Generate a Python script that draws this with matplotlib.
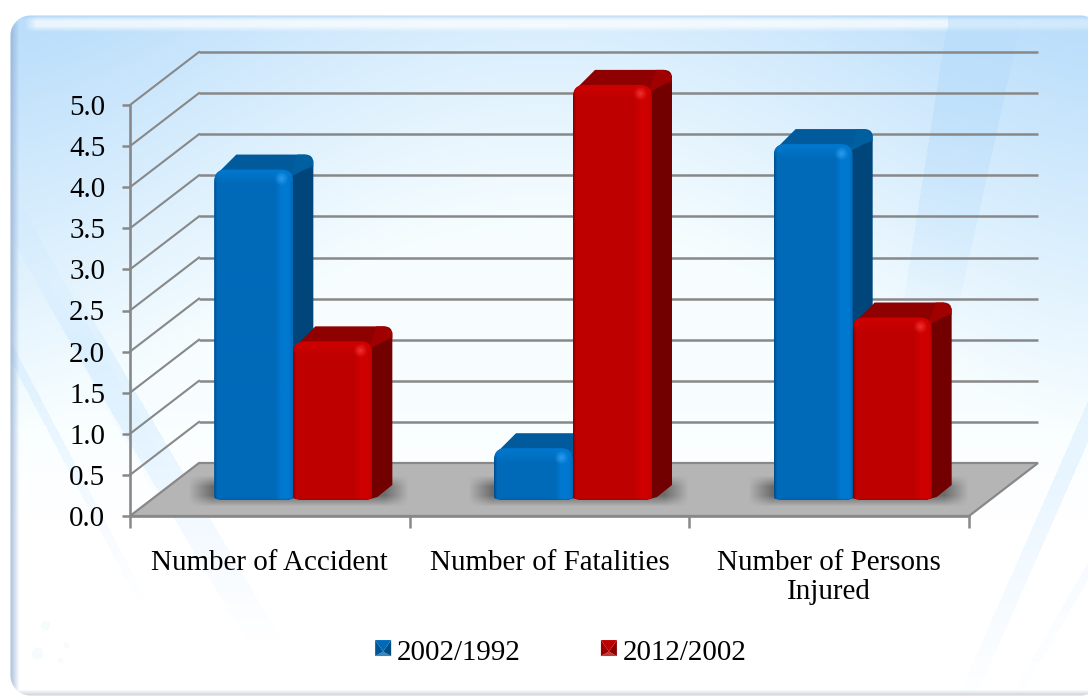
import numpy as np
import matplotlib
matplotlib.use("Agg")
import matplotlib.pyplot as plt
from matplotlib.legend_handler import HandlerBase
from matplotlib.patches import Patch, PathPatch, Polygon
from matplotlib.path import Path
from matplotlib.transforms import Affine2D, IdentityTransform

categories = ["Number of Accident", "Number of Fatalities", "Number of Persons\nInjured"]
series_names = ["2002/1992", "2012/2002"]
values_a = [4.02, 0.63, 4.33]
values_b = [1.93, 5.05, 2.22]
y_ticks = [0.0, 0.5, 1.0, 1.5, 2.0, 2.5, 3.0, 3.5, 4.0, 4.5, 5.0]

W, H = 1088, 698
FONT = "Liberation Serif"
FS = 20.9
GREY = "#888888"
WALL_DX, WALL_DY = 69, 53  # wall depth, pixels
BAR_DX, BAR_DY = 20, 15
BAR_SHIFT = (23.5, 16)  # bars stand in the middle of the floor

BLUE = dict(dark="#004f8e", mid="#006ab9", bright="#0079d0", spot="#2a9cf0",
            top="#005a9c", corner="#00609f", side="#00467a")
RED = dict(dark="#8a0000", mid="#bf0000", bright="#cf0000", spot="#f03030",
           top="#8f0000", corner="#a00000", side="#720000")


def rgb(c):
    return np.array(matplotlib.colors.to_rgb(c))


def soft_box(xx, yy, x0, x1, y0, y1, sx, sy):
    ex = np.clip((xx - x0) / sx, 0, 1) * np.clip((x1 - xx) / sx, 0, 1)
    ey = np.clip((yy - y0) / sy, 0, 1) * np.clip((y1 - yy) / sy, 0, 1)
    return ex * ey


def background():
    yy, xx = np.mgrid[0:H, 0:W].astype(float)
    top = np.array([0.73, 0.87, 0.985])
    low = np.array([0.97, 0.995, 1.0])
    t = np.clip((yy - 30) / 400 + 0.5 * np.sin(np.pi * xx / W) ** 1.5, 0, 1)
    img = top + (low - top) * t[..., None]
    low_t = np.clip((yy - 400) / 120, 0, 1)[..., None]
    img = img + (1 - img) * low_t

    def overlay(alpha, color=top):
        nonlocal img
        img = img + (color - img) * alpha[..., None]

    # band on the right
    left = 948 - (yy - 15) * 0.157
    right = 1022 - (yy - 15) * 0.22
    overlay((xx > left) * (xx < right) * 0.85 * np.clip(1 - (yy - 30) / 300, 0, 1))

    # stripes lower left and lower right
    pale = np.array([0.8, 0.91, 1.0])
    for x0, y0, slope, hw, a, fade in [(10, 350, 1.9, 5, 0.45, 600), (87, 340, 1.7, 18, 0.45, 640),
                                       (10, 210, 1.8, 14, 0.25, 520)]:
        d = np.abs(xx - (x0 + (yy - y0) / slope))
        overlay((d < hw) * np.clip((yy - y0 + 60) / 60, 0, 1) * a * np.clip((fade - yy) / 220, 0, 1), pale)
    for x0, y0, k, hw, a in [(1088, 420, 0.44, 9, 0.4), (1088, 570, 0.58, 5, 0.25)]:
        d = np.abs(xx - (x0 - (yy - y0) * k))
        overlay((d < hw) * (yy > y0 - 40) * a * np.clip((700 - yy) / 220, 0, 1), pale)

    # faint dots
    for cx, cy, r in [(45, 625, 5), (37, 653, 6), (66, 645, 3), (60, 660, 2.5)]:
        overlay((np.hypot(xx - cx, yy - cy) < r) * 0.12)

    # rounded panel and bevel
    x0, x1, y0, y1, r = 10, 1100, 15, 695, 20
    qx = np.maximum(np.maximum(x0 + r - xx, xx - (x1 - r)), 0)
    qy = np.maximum(np.maximum(y0 + r - yy, yy - (y1 - r)), 0)
    inner = np.minimum(np.minimum(xx - x0, x1 - xx), np.minimum(yy - y0, y1 - yy))
    dist = np.where((qx > 0) & (qy > 0), r - np.hypot(qx, qy), inner)
    overlay(np.clip(1 - (xx - x0) / 9, 0, 1) * 0.75, np.array([0.56, 0.67, 0.82]))
    overlay(np.clip(1 - (y1 - yy) / 6, 0, 1) * 0.7, np.array([0.72, 0.74, 0.78]))
    overlay(np.clip(1 - (yy - y0) / 4, 0, 1) * 0.6, np.array([0.62, 0.78, 0.95]))
    shine = np.clip(1.4 - np.abs(yy - 23) / 6, 0, 1) * np.clip((xx - 24) / 12, 0, 1)
    overlay(shine * np.where(xx < 948, 0.72, 0.35), np.array([1.0, 1.0, 1.0]))
    mask = np.clip(dist + 0.5, 0, 1)[..., None]
    return img * mask + (1 - mask)


def rounded(x0, x1, y0, y1, rt=12, rbx=12, rby=3):
    verts = [(x0 + rbx, y0), (x1 - rbx, y0), (x1, y0), (x1, y0 + rby), (x1, y1 - rt), (x1, y1), (x1 - rt, y1),
             (x0 + rt, y1), (x0, y1), (x0, y1 - rt), (x0, y0 + rby), (x0, y0), (x0 + rbx, y0), (x0 + rbx, y0)]
    codes = [Path.MOVETO, Path.LINETO, Path.CURVE3, Path.CURVE3, Path.LINETO, Path.CURVE3, Path.CURVE3,
             Path.LINETO, Path.CURVE3, Path.CURVE3, Path.LINETO, Path.CURVE3, Path.CURVE3, Path.CLOSEPOLY]
    return Path(verts, codes)


def draw_bar(ax, rect, pal, z):
    box = rect.get_window_extent()
    x0, x1, y0, y1 = box.x0, box.x1, box.y0, box.y1
    px = IdentityTransform()
    # side and top faces
    side = [(x1 - 6, y1 - 8), (x1 + BAR_DX, y1 + 5), (x1 + BAR_DX, y0 + BAR_DY), (x1 + 5, y0 + 3), (x1 - 6, y0)]
    ax.add_patch(Polygon(side, closed=True, fc=pal["side"], ec="none", transform=px, zorder=z, clip_on=False))
    verts = [(x0 + 5, y1 - 2), (x0 + 22, y1 + BAR_DY), (x1 + BAR_DX - 8, y1 + BAR_DY), (x1 + BAR_DX, y1 + BAR_DY),
             (x1 + BAR_DX, y1 + BAR_DY - 8), (x1 + BAR_DX, y1 + 3), (x1 - 5, y1 - 6), (x1 - 5, y1 - 2), (x0 + 5, y1 - 2)]
    codes = [Path.MOVETO, Path.LINETO, Path.LINETO, Path.CURVE3, Path.CURVE3, Path.LINETO, Path.LINETO, Path.LINETO,
             Path.CLOSEPOLY]
    ax.add_patch(PathPatch(Path(verts, codes), fc=pal["top"], ec="none", transform=px, zorder=z, clip_on=False))
    corner = [(x1 - 4, y1 - 8), (x1 + 4, y1 + BAR_DY), (x1 + BAR_DX - 8, y1 + BAR_DY), (x1 + BAR_DX, y1 + BAR_DY - 6),
              (x1 + BAR_DX, y1 + 5)]
    ax.add_patch(Polygon(corner, closed=True, fc=pal["corner"], ec="none", transform=px, zorder=z, clip_on=False))

    # front face: shaded picture clipped to a rounded outline
    w, h = int(round(x1 - x0)), int(round(y1 - y0))
    u = np.linspace(0, 1, w)
    stops = [0, 0.035, 0.78, 0.86, 0.95, 1]
    cols = [rgb(pal["dark"]), rgb(pal["mid"]), rgb(pal["mid"]), rgb(pal["bright"]), rgb(pal["bright"]), rgb(pal["mid"])]
    prof = np.stack([np.interp(u, stops, [c[k] for c in cols]) for k in range(3)], axis=1)
    img = np.repeat(prof[None, :, :], h, axis=0)
    yy, xx = np.mgrid[0:h, 0:w].astype(float)
    band = np.clip(1 - yy / 14, 0, 1)[..., None]
    img = img + (rgb(pal["bright"]) - img) * band
    img = img + (rgb(pal["dark"]) - img) * np.clip(1 - (h - yy) / 3, 0, 1)[..., None] * 0.5
    spot = np.clip(1 - np.hypot(xx - (w - 12), yy - 9) / 7, 0, 1)[..., None]
    img = img + (rgb(pal["spot"]) - img) * spot
    outline = PathPatch(rounded(x0, x1, y0, y1), transform=px)
    im = ax.imshow(img, extent=(x0, x1, y0, y1), origin="upper", aspect="auto", transform=px,
                   interpolation="bilinear", zorder=z + 0.1)
    im.set_clip_box(ax.figure.bbox)  # red bar rises above the axes box
    im.set_clip_path(outline)
    # the plain bar underneath takes the same outline
    rect.set_clip_on(True)
    rect.set_clip_box(ax.figure.bbox)
    rect.set_clip_path(outline)


def draw_shadow(ax, rect_a, rect_b, floor_patch):
    a = rect_a.get_window_extent()
    b = rect_b.get_window_extent()
    x0, x1, y0 = a.x0 - 26, b.x1 + 36, a.y0
    yy, xx = np.mgrid[y0 - 7:y0 + 24:1.0, x0:x1:1.0]
    alpha = soft_box(xx, yy, x0, x1, y0 - 7, y0 + 24, 24, 11) * 0.62
    img = np.zeros(alpha.shape + (4,))
    img[..., :3] = 0.25
    img[..., 3] = alpha
    im = ax.imshow(img, extent=(x0, x1, y0 - 7, y0 + 24), origin="lower", aspect="auto",
                   transform=IdentityTransform(), interpolation="bilinear", zorder=2)
    im.set_clip_box(ax.figure.bbox)
    im.set_clip_path(floor_patch)


class BevelSquare(HandlerBase):
    # small pyramid-shaped legend key
    def create_artists(self, legend, orig, xd, yd, width, height, fontsize, trans):
        c = rgb(orig.get_facecolor()[:3])
        s = 16 * 72 / 100
        x, y = -xd, -yd + (height - s) / 2 + 1.4
        cx, cy = x + s / 2, y + s * 0.28
        a, b, d = (x, y), (x + s, y), (x + s, y + s)
        e = (x, y + s)
        faces = [([a, b, (cx, cy)], c + (1 - c) * 0.2), ([b, d, (cx, cy)], c * 0.72),
                 ([d, e, (cx, cy)], c * 1.0), ([e, a, (cx, cy)], c * 0.8)]
        return [Polygon(p, closed=True, fc=col, ec="none", transform=trans) for p, col in faces]


fig = plt.figure(figsize=(W / 100, H / 100), dpi=100)

bg = fig.add_axes([0, 0, 1, 1], zorder=0)
bg.imshow(background(), extent=(0, W, H, 0), aspect="auto", interpolation="nearest")
bg.set_xlim(0, W)
bg.set_ylim(H, 0)
bg.axis("off")

ax = fig.add_axes([130 / W, (H - 516) / H, 839 / W, 411 / H], zorder=1)
ax.patch.set_visible(False)
x = np.arange(len(categories))
bar_w = 79 / (839 / 3)
ax.set_xlim(-0.5, 2.5)
ax.set_ylim(0, 5)
front = ax.transData + Affine2D().translate(*BAR_SHIFT)
bars_a = ax.bar(x - bar_w / 2, values_a, bar_w, color="#006ab9", transform=front, clip_on=False, zorder=3)
bars_b = ax.bar(x + bar_w / 2, values_b, bar_w, color="#bf0000", transform=front, clip_on=False, zorder=4)
ax.set_xlim(-0.5, 2.5)
ax.set_ylim(0, 5)

# walls and floor
back = ax.transData + Affine2D().translate(WALL_DX, WALL_DY)
for v in y_ticks[1:]:
    ax.plot([-0.5, 2.5], [v, v], color=GREY, lw=1.8, transform=back, clip_on=False, zorder=1, solid_capstyle="butt")
    p = ax.transData.transform((-0.5, v))
    ax.plot([p[0], p[0] + WALL_DX], [p[1], p[1] + WALL_DY], color=GREY, lw=1.5,
            transform=IdentityTransform(), clip_on=False, zorder=1)
floor_pts = [ax.transData.transform((-0.5, 0)), ax.transData.transform((2.5, 0)),
             back.transform((2.5, 0)), back.transform((-0.5, 0))]
floor = Polygon(floor_pts, closed=True, fc="#b5b5b5", ec=GREY, lw=1.6, transform=IdentityTransform(),
                clip_on=False, zorder=1.5)
ax.add_patch(floor)

for ra, rb in zip(bars_a, bars_b):
    draw_shadow(ax, ra, rb, floor)
for ra in bars_a:
    draw_bar(ax, ra, BLUE, 3)
for rb in bars_b:
    draw_bar(ax, rb, RED, 4)
ax.set_xlim(-0.5, 2.5)
ax.set_ylim(0, 5)

for s in ["top", "right"]:
    ax.spines[s].set_visible(False)
for s in ["left", "bottom"]:
    ax.spines[s].set_color(GREY)
    ax.spines[s].set_linewidth(1.9)
ax.set_yticks(y_ticks)
ax.set_yticklabels([f"{v:.1f}" for v in y_ticks], family=FONT, fontsize=FS, color="black")
ax.tick_params(axis="y", length=5.8, width=1.8, color=GREY, pad=12)
ax.set_xticks([-0.5, 0.5, 1.5, 2.5])
ax.set_xticklabels([])
ax.tick_params(axis="x", which="major", length=8.6, width=1.8, color=GREY)
ax.set_xticks(x, minor=True)
ax.set_xticklabels(categories, minor=True, family=FONT, fontsize=FS, color="black", linespacing=1.17)
ax.tick_params(axis="x", which="minor", length=0, pad=24.5)

handles = [Patch(facecolor=BLUE["mid"], label=series_names[0]), Patch(facecolor=RED["mid"], label=series_names[1])]
fig.legend(handles=handles, handler_map={Patch: BevelSquare()}, loc="center",
           bbox_to_anchor=(561 / W, (H - 653) / H), ncols=2, frameon=False,
           prop={"family": FONT, "size": FS}, handlelength=0.56, handletextpad=0.2, columnspacing=2.75)

fig.savefig("out.png", dpi=100)
